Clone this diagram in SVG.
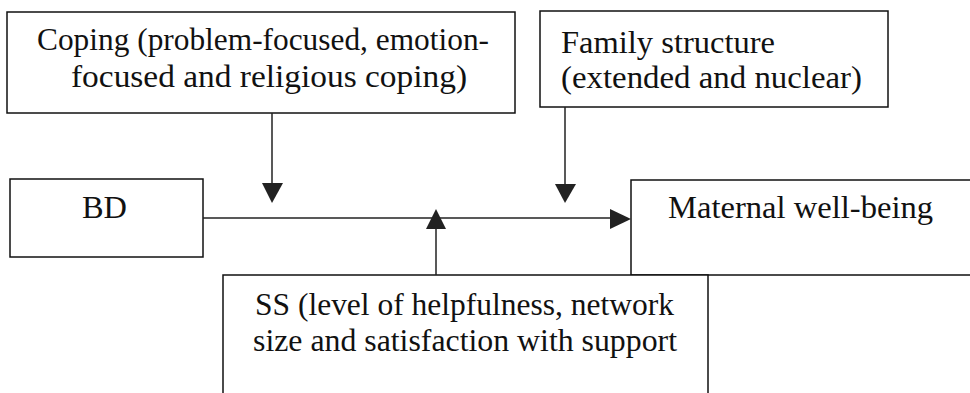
<svg xmlns="http://www.w3.org/2000/svg" width="970" height="393" viewBox="0 0 970 393">
<style>
.box{fill:#fff;stroke:#111;stroke-width:1.5}
.c{stroke:#222;stroke-width:1.5;fill:none}
.ah{fill:#222}
text{font-family:"Liberation Serif","Times New Roman",serif;font-size:32px;fill:#111}
</style>
<rect width="970" height="393" fill="#fff"/>
<g id="coping">
<rect class="box" x="7" y="12" width="508" height="101"/>
<text x="37" y="50" textLength="452" lengthAdjust="spacingAndGlyphs">Coping (problem-focused, emotion-</text>
<text x="71" y="87" textLength="396" lengthAdjust="spacingAndGlyphs">focused and religious coping)</text>
</g>
<g id="family">
<rect class="box" x="540" y="11" width="348" height="96"/>
<text x="561" y="53" textLength="214" lengthAdjust="spacingAndGlyphs">Family structure</text>
<text x="561" y="88" textLength="301" lengthAdjust="spacingAndGlyphs">(extended and nuclear)</text>
</g>
<g id="bd">
<rect class="box" x="10" y="179" width="193" height="78"/>
<text x="82" y="218" textLength="45" lengthAdjust="spacingAndGlyphs">BD</text>
</g>
<g id="maternal">
<path class="box" d="M972 180 H631 V275 H972"/>
<text x="668" y="218" textLength="265" lengthAdjust="spacingAndGlyphs">Maternal well-being</text>
</g>
<g id="ss">
<path class="box" d="M223 395 V275 H708 V395"/>
<text x="255" y="315" textLength="419" lengthAdjust="spacingAndGlyphs">SS (level of helpfulness, network</text>
<text x="253" y="351" textLength="424" lengthAdjust="spacingAndGlyphs">size and satisfaction with support</text>
</g>
<g id="connectors">
<line class="c" x1="203" y1="218" x2="612" y2="218"/>
<polygon class="ah" points="610,209 631,219 610,229"/>
<line class="c" x1="272" y1="113" x2="272" y2="185"/>
<polygon class="ah" points="262,183 283,183 272,203"/>
<line class="c" x1="565" y1="107" x2="565" y2="186"/>
<polygon class="ah" points="555,184 576,184 565,203"/>
<line class="c" x1="436" y1="275" x2="436" y2="227"/>
<polygon class="ah" points="426,229 446,229 436,209"/>
</g>
</svg>
